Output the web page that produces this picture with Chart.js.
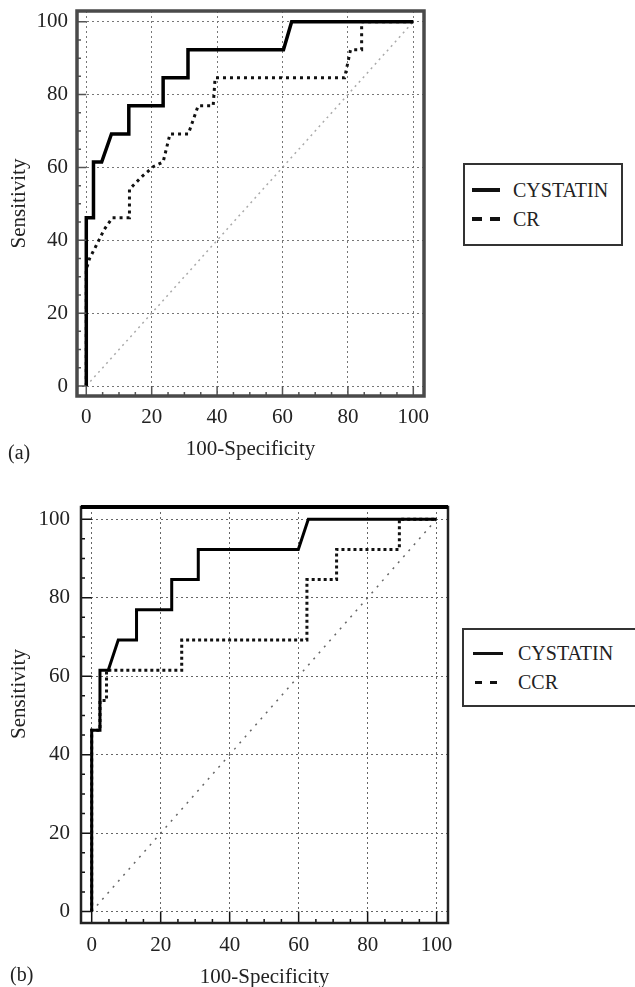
<!DOCTYPE html>
<html lang="en">
<head>
<meta charset="UTF-8">
<title>ROC curves: cystatin vs creatinine</title>
<script src="https://cdn.jsdelivr.net/npm/chart.js"></script>
<style>
  body { margin: 0; width: 635px; height: 987px; overflow: hidden; background: #fff;
         font-family: "Liberation Serif", "DejaVu Serif", serif; color: #222; }
  canvas { position: absolute; left: 0; }
  .tag { position: absolute; font-size: 20px; line-height: 24px; }
  .legend { position: absolute; box-sizing: border-box; border: 2px solid #333; }
  .txt { position: absolute; font-size: 20px; line-height: 24px; white-space: nowrap; }
  .bar { position: absolute; background: #111; }
</style>
</head>
<body>

<canvas id="rocA" width="440" height="470" style="top:0"></canvas>
<canvas id="rocB" width="460" height="500" style="top:490px"></canvas>

<div class="tag" style="left:8px; top:440px">(a)</div>
<div class="tag" style="left:10px; top:962px">(b)</div>

<!-- legend (a) -->
<div class="legend" style="left:463px; top:163px; width:160px; height:83px"></div>
<div class="bar" style="left:472px; top:188px; width:28px; height:3.5px"></div>
<div class="txt" style="left:513px; top:178px">CYSTATIN</div>
<div class="bar" style="left:472px; top:217px; width:10px; height:3.5px"></div>
<div class="bar" style="left:490px; top:217px; width:10px; height:3.5px"></div>
<div class="txt" style="left:513px; top:207px">CR</div>

<!-- legend (b) -->
<div class="legend" style="left:462px; top:628px; width:190px; height:79px"></div>
<div class="bar" style="left:473px; top:652px; width:30px; height:2.5px"></div>
<div class="txt" style="left:518px; top:641px">CYSTATIN</div>
<div class="bar" style="left:475px; top:681px; width:7px; height:2.5px"></div>
<div class="bar" style="left:490px; top:681px; width:7px; height:2.5px"></div>
<div class="txt" style="left:518px; top:670px">CCR</div>

<script>
  const TICKS = [0, 20, 40, 60, 80, 100];
  const chanceX = [0, 100];
  const chanceY = [0, 100];

  // panel (a): cystatin vs serum creatinine
  const fprCystatinA  = [0, 0, 2.2, 2.2, 4.7, 7.7, 13, 13, 23.5, 23.5, 31.1, 31.1, 60.3, 62.8, 100];
  const sensCystatinA = [0, 46.2, 46.2, 61.5, 61.5, 69.2, 69.2, 76.9, 76.9, 84.6, 84.6, 92.3, 92.3, 100, 100];
  const fprCrA  = [0, 0, 1, 3, 5.5, 8, 13.2, 13.2, 17, 20.5, 23.5, 25.6, 31.2, 34.2, 38.8, 39.4, 79, 80.8, 84.2, 84.2, 100];
  const sensCrA = [0, 32, 35, 38.5, 43, 46.2, 46.2, 54, 57.5, 60.2, 61.5, 69.2, 69.2, 76.9, 76.9, 84.6, 84.6, 92.3, 92.3, 100, 100];

  // panel (b): cystatin vs creatinine clearance
  const fprCystatinB  = [0, 0, 2.4, 2.4, 4.8, 7.7, 13, 13, 23.2, 23.2, 30.9, 30.9, 59.9, 62.8, 100];
  const sensCystatinB = [0, 46.2, 46.2, 61.5, 61.5, 69.2, 69.2, 76.9, 76.9, 84.6, 84.6, 92.3, 92.3, 100, 100];
  const fprCcrB  = [0, 0, 2.4, 2.4, 4.3, 4.3, 26.1, 26.1, 62.4, 62.4, 71, 71, 89.2, 89.2, 100];
  const sensCcrB = [0, 46.2, 46.2, 53.8, 53.8, 61.5, 61.5, 69.2, 69.2, 84.6, 84.6, 92.3, 92.3, 100, 100];

  const pts = (xs, ys) => xs.map((x, i) => ({ x: x, y: ys[i] }));

  // frame round the plot area plus the small inner tick marks
  const framePlugin = {
    id: 'frame',
    afterDraw(chart, args, opts) {
      const { ctx, chartArea: a, scales } = chart;
      const x0 = scales.x.getPixelForValue(0), y0 = scales.y.getPixelForValue(0);
      ctx.save();
      ctx.strokeStyle = opts.tickColor;
      ctx.lineWidth = 1.5;
      ctx.beginPath();
      for (let v = 0; v <= 100; v += 5) {
        const major = v % 20 === 0;
        const py = scales.y.getPixelForValue(v);
        ctx.moveTo(a.left, py);
        ctx.lineTo(major ? x0 : a.left + 4, py);
        const px = scales.x.getPixelForValue(v);
        ctx.moveTo(px, a.bottom);
        ctx.lineTo(px, major ? y0 : a.bottom - 4);
      }
      ctx.stroke();
      ctx.strokeStyle = opts.color;
      ctx.lineWidth = opts.width;
      ctx.strokeRect(a.left, a.top, a.right - a.left, a.bottom - a.top);
      if (opts.topWidth) {
        ctx.strokeStyle = '#000';
        ctx.lineWidth = opts.topWidth;
        ctx.beginPath();
        ctx.moveTo(a.left, a.top);
        ctx.lineTo(a.right, a.top);
        ctx.stroke();
      }
      ctx.restore();
    }
  };

  function makeRoc(id, p) {
    const font = { family: '"Liberation Serif", "DejaVu Serif", serif', size: 21 };
    const grid = { color: p.gridColor, lineWidth: 1, drawTicks: false };
    const border = { display: false, dash: [2, 3] };
    return new Chart(document.getElementById(id), {
      type: 'scatter',
      data: {
        datasets: [
          { label: 'CYSTATIN', data: pts(p.fprA, p.sensA), showLine: true,
            borderColor: '#000', borderWidth: p.solidWidth, pointRadius: 0 },
          { label: p.otherLabel, data: pts(p.fprB, p.sensB), showLine: true,
            borderColor: '#111', borderWidth: 3, borderDash: p.dash, pointRadius: 0 },
          { label: 'chance', data: pts(chanceX, chanceY), showLine: true,
            borderColor: p.chanceColor, borderWidth: 1.5, borderDash: p.chanceDash, pointRadius: 0 }
        ]
      },
      options: {
        responsive: false,
        animation: false,
        devicePixelRatio: 1,
        layout: { padding: { top: p.top, right: p.right, left: 0, bottom: 0 } },
        plugins: {
          legend: { display: false },
          tooltip: { enabled: false },
          frame: { color: p.frameColor, width: p.frameWidth, topWidth: p.topWidth, tickColor: p.tickColor }
        },
        scales: {
          x: {
            type: 'linear', min: p.xMin, max: p.xMax,
            afterBuildTicks: s => { s.ticks = TICKS.map(v => ({ value: v })); },
            afterFit: s => { s.height = p.xHeight; s.paddingLeft = 0; s.paddingRight = 0; },
            grid: grid, border: border,
            ticks: { font: font, color: '#222', padding: p.xPad, maxRotation: 0 },
            title: { display: true, text: '100-Specificity', font: font, color: '#222',
                     padding: { top: 0, bottom: p.xTitlePad } }
          },
          y: {
            type: 'linear', min: p.yMin, max: p.yMax,
            afterBuildTicks: s => { s.ticks = TICKS.map(v => ({ value: v })); },
            afterFit: s => { s.width = p.yWidth; s.paddingTop = 0; s.paddingBottom = 0; },
            grid: grid, border: border,
            ticks: { font: font, color: '#222', padding: p.yPad },
            title: { display: true, text: p.yTitle, font: font, color: '#222',
                     padding: { top: 7, bottom: 0 } }
          }
        }
      },
      plugins: [framePlugin]
    });
  }

  makeRoc('rocA', {
    fprA: fprCystatinA, sensA: sensCystatinA, fprB: fprCrA, sensB: sensCrA, otherLabel: 'CR',
    solidWidth: 3.5, dash: [3, 4], chanceColor: '#aaa', chanceDash: [2, 4],
    gridColor: '#777', frameColor: '#4a4a4a', frameWidth: 3.5, topWidth: 0, tickColor: '#555',
    xMin: -2.84, xMax: 103.27, yMin: -2.74, yMax: 102.94,
    top: 11, right: 16, yWidth: 77, xHeight: 74, xPad: 9, yPad: 9, xTitlePad: 8,
    yTitle: 'Sensitivity'
  });

  makeRoc('rocB', {
    fprA: fprCystatinB, sensA: sensCystatinB, fprB: fprCcrB, sensB: sensCcrB, otherLabel: 'CCR',
    solidWidth: 3, dash: [3, 3], chanceColor: '#666', chanceDash: [2, 6],
    gridColor: '#666', frameColor: '#222', frameWidth: 2.5, topWidth: 4, tickColor: '#111',
    xMin: -3.1, xMax: 103.3, yMin: -2.9, yMax: 103.1,
    top: 17, right: 12, yWidth: 81, xHeight: 67, xPad: 10, yPad: 11, xTitlePad: 0,
    yTitle: '        Sensitivity'
  });
</script>
</body>
</html>
